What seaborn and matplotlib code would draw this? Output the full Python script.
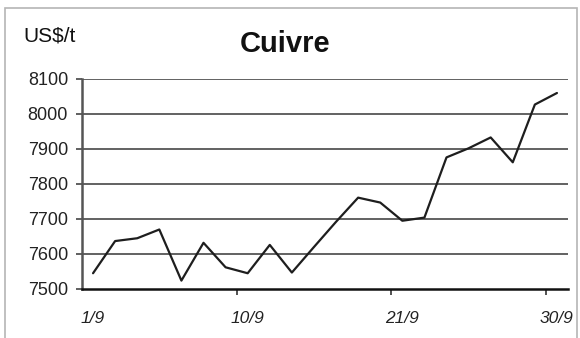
import matplotlib
matplotlib.use("Agg")
import matplotlib.pyplot as plt
import seaborn as sns
import pandas as pd
from matplotlib.patches import Rectangle

# Daily copper price, September (US$/t)
prices = [7545, 7637, 7645, 7670, 7524, 7632, 7562, 7545, 7626, 7547, 7620,
          7692, 7761, 7747, 7695, 7704, 7876, 7902, 7933, 7862, 8027, 8060]
label_positions = [0, 7, 14, 21]
date_labels = ["1/9", "10/9", "21/9", "30/9"]
y_ticks = [7500, 7600, 7700, 7800, 7900, 8000, 8100]

df = pd.DataFrame({"jour": range(len(prices)), "prix": prices})

sns.set_style("white")
plt.rcParams["font.family"] = ["Liberation Sans", "DejaVu Sans"]

fig = plt.figure(figsize=(5.8, 3.38), dpi=100)
ax = fig.add_axes([82 / 580, 1 - 289 / 338, (568 - 82) / 580, (289 - 79) / 338])

# horizontal gridlines
for v in y_ticks[1:]:
    ax.axhline(v, color="#555555", lw=1.3, zorder=1)

sns.lineplot(data=df, x="jour", y="prix", ax=ax, color="#1e1e1e", lw=1.6, zorder=3)

ax.set_xlim(-0.5, len(prices) - 0.5)
ax.set_ylim(y_ticks[0], y_ticks[-1])
ax.set_yticks(y_ticks)
ax.set_yticklabels([str(v) for v in y_ticks], fontsize=13, color="#222222")
ax.tick_params(axis="y", length=4, width=1.2, color="#444444", pad=6, left=True)

ax.set_xticks(label_positions)
ax.set_xticklabels(date_labels, fontsize=12.5, style="italic", color="#222222")
ax.set_xticks([p - 0.5 for p in label_positions[1:]], minor=True)
ax.tick_params(axis="x", which="major", length=0, pad=16)
ax.tick_params(axis="x", which="minor", length=4, width=1.2, color="#333333",
               bottom=True, direction="out")

ax.set_xlabel("")
ax.set_ylabel("")
for side in ["top", "right"]:
    ax.spines[side].set_visible(False)
ax.spines["left"].set_color("#555555")
ax.spines["left"].set_linewidth(1.8)
ax.spines["bottom"].set_color("#111111")
ax.spines["bottom"].set_linewidth(1.8)

fig.text(285 / 580, 1 - 44 / 338, "Cuivre", fontsize=21, fontweight="bold",
         ha="center", va="center", color="#111111")
fig.text(23 / 580, 1 - 36 / 338, "US$/t", fontsize=15, ha="left", va="center",
         color="#111111")

# chart border
fig.patches.append(Rectangle((5 / 580, -0.05), (577 - 5) / 580, 1 - 8 / 338 + 0.05,
                             transform=fig.transFigure, fill=False,
                             edgecolor="#b5b5b5", lw=1.2))

fig.savefig("out.png", dpi=100, facecolor="white")
